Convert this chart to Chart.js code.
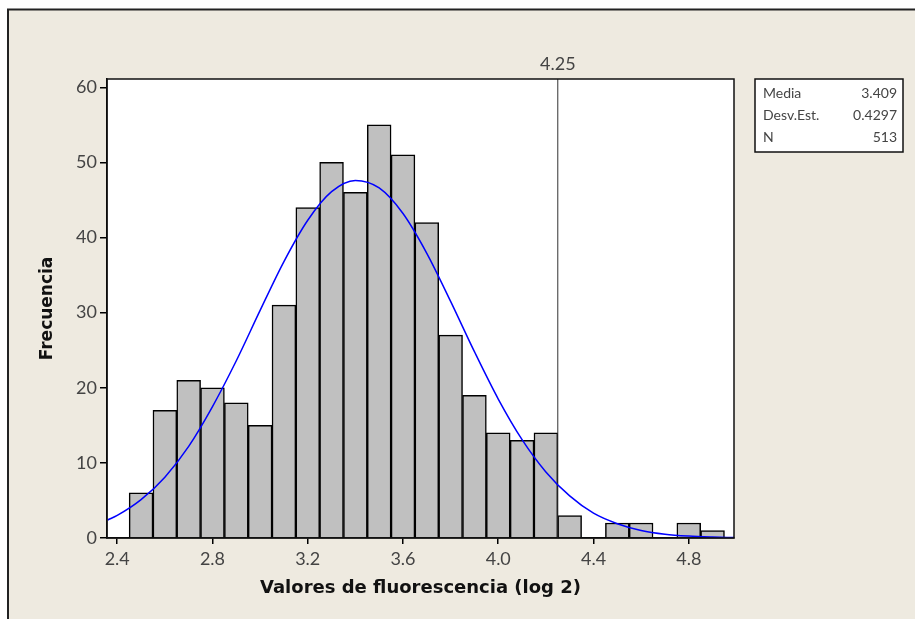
<!DOCTYPE html>
<html>
<head>
<meta charset="utf-8">
<script src="https://cdn.jsdelivr.net/npm/chart.js@4/dist/chart.umd.min.js"></script>
<style>
  html, body { margin: 0; padding: 0; background: #ffffff; }
  canvas { display: block; }
</style>
</head>
<body>
<canvas id="c" width="915" height="619"></canvas>
<script>
// ---- Data ----
const binCenters = [2.5, 2.6, 2.7, 2.8, 2.9, 3.0, 3.1, 3.2, 3.3, 3.4, 3.5, 3.6, 3.7, 3.8, 3.9, 4.0, 4.1, 4.2, 4.3, 4.4, 4.5, 4.6, 4.7, 4.8, 4.9];
const counts     = [6, 17, 21, 20, 18, 15, 31, 44, 50, 46, 55, 51, 42, 27, 19, 14, 13, 14, 3, 0, 2, 2, 0, 2, 1];
const curveX = [2.36, 2.4, 2.5, 2.6, 2.7, 2.8, 2.9, 3.0, 3.1, 3.2, 3.3, 3.4, 3.5, 3.6, 3.7, 3.8, 3.9, 4.0, 4.1, 4.2, 4.3, 4.4, 4.5, 4.6, 4.7, 4.8, 4.9, 4.99];
const curveY = [2.4, 3.0, 5.1, 8.1, 12.2, 17.5, 23.6, 30.3, 36.8, 42.3, 46.1, 47.6, 46.6, 43.2, 37.9, 31.5, 24.8, 18.5, 13.1, 8.8, 5.6, 3.3, 1.9, 1.0, 0.5, 0.25, 0.12, 0.05];
const refLineX = 4.25;
const xTickValues = [2.4, 2.8, 3.2, 3.6, 4.0, 4.4, 4.8];
const yTickValues = [0, 10, 20, 30, 40, 50, 60];
const statLabels = ['Media', 'Desv.Est.', 'N'];
const statValues = ['3.409', '0.4297', '513'];
const xTitle = 'Valores de fluorescencia (log 2)';
const yTitle = 'Frecuencia';

const BG = '#EEEAE0';
const TXT = '#444444';
const TICKFAMILY = 'Lato, "Open Sans", sans-serif';
const TICKFONT = { family: TICKFAMILY, size: 18, weight: 'normal' };
const XTITLEFONT = { family: '"DejaVu Sans", sans-serif', size: 18, weight: 'bold' };
const YTITLEFONT = { family: '"DejaVu Sans", sans-serif', size: 17, weight: 'bold' };

const framePlugin = {
  id: 'frame',
  beforeDraw(chart) {
    const ctx = chart.ctx;
    const W = chart.width, H = chart.height;
    ctx.save();
    ctx.fillStyle = '#ffffff';
    ctx.fillRect(0, 0, W, H);
    ctx.fillStyle = BG;
    ctx.fillRect(8, 9, W - 8, H - 9);
    ctx.strokeStyle = '#222';
    ctx.lineWidth = 2;
    ctx.beginPath();
    ctx.moveTo(8, H);
    ctx.lineTo(8, 9.5);
    ctx.lineTo(W, 9.5);
    ctx.stroke();
    const a = chart.chartArea;
    ctx.fillStyle = '#ffffff';
    ctx.fillRect(a.left, a.top, a.right - a.left, a.bottom - a.top);
    ctx.restore();
  },
  afterDraw(chart) {
    const ctx = chart.ctx;
    const a = chart.chartArea;
    const xs = chart.scales.x;
    ctx.save();
    // plot border
    ctx.strokeStyle = '#111';
    ctx.lineWidth = 1.5;
    ctx.strokeRect(a.left, a.top, a.right - a.left, a.bottom - a.top);
    // reference line label
    ctx.fillStyle = TXT;
    ctx.font = 'normal 18px ' + TICKFAMILY;
    ctx.textAlign = 'center';
    ctx.textBaseline = 'middle';
    ctx.fillText(String(refLineX), xs.getPixelForValue(refLineX), a.top - 15);
    // stats box
    const bx = 755, by = 79, bw = 148, bh = 73;
    ctx.fillStyle = '#ffffff';
    ctx.fillRect(bx, by, bw, bh);
    ctx.strokeStyle = '#111';
    ctx.lineWidth = 1.5;
    ctx.strokeRect(bx, by, bw, bh);
    ctx.fillStyle = TXT;
    ctx.font = 'normal 14px ' + TICKFAMILY;
    ctx.textBaseline = 'middle';
    for (let i = 0; i < statLabels.length; i++) {
      const yy = by + 14 + i * 22;
      ctx.textAlign = 'left';
      ctx.fillText(statLabels[i], bx + 8, yy);
      ctx.textAlign = 'right';
      ctx.fillText(statValues[i], bx + bw - 6, yy);
    }
    ctx.restore();
  }
};

new Chart(document.getElementById('c'), {
  type: 'bar',
  data: {
    datasets: [
      {
        type: 'line',
        data: curveX.map((x, i) => ({ x: x, y: curveY[i] })),
        borderColor: '#0000FF',
        borderWidth: 1.5,
        pointRadius: 0,
        cubicInterpolationMode: 'monotone',
        fill: false,
        order: 0
      },
      {
        type: 'line',
        data: [{ x: refLineX, y: 0 }, { x: refLineX, y: 61.1 }],
        borderColor: '#333333',
        borderWidth: 1,
        pointRadius: 0,
        fill: false,
        order: 1
      },
      {
        type: 'bar',
        data: binCenters.map((x, i) => ({ x: x, y: counts[i] })),
        backgroundColor: '#C0C0C0',
        borderColor: '#000000',
        borderWidth: 1.5,
        barPercentage: 1,
        categoryPercentage: 1,
        order: 2
      }
    ]
  },
  options: {
    responsive: false,
    animation: false,
    layout: { padding: { left: 0, top: 79, right: 181, bottom: 0 } },
    plugins: { legend: { display: false }, tooltip: { enabled: false } },
    scales: {
      x: {
        type: 'linear',
        min: 2.357,
        max: 4.99,
        offset: false,
        afterBuildTicks(axis) { axis.ticks = xTickValues.map(v => ({ value: v })); },
        afterFit(axis) { axis.height = 81; },
        grid: { offset: false, drawOnChartArea: false, drawTicks: true, tickLength: 6, color: '#000', lineWidth: 1.5 },
        border: { display: true, color: '#000', width: 1.5 },
        ticks: {
          color: TXT,
          font: TICKFONT,
          padding: 4,
          maxRotation: 0,
          autoSkip: false,
          callback: v => Number(v).toFixed(1)
        },
        title: {
          display: true,
          text: xTitle,
          color: '#111',
          font: XTITLEFONT,
          padding: { top: 0, bottom: 20 }
        }
      },
      y: {
        type: 'linear',
        min: 0,
        max: 61.1,
        afterBuildTicks(axis) { axis.ticks = yTickValues.map(v => ({ value: v })); },
        afterFit(axis) { axis.width = 107; },
        grid: { drawOnChartArea: false, drawTicks: true, tickLength: 7, color: '#000', lineWidth: 1.5 },
        border: { display: true, color: '#000', width: 1.5 },
        ticks: { color: TXT, font: TICKFONT, padding: 3 },
        title: {
          display: true,
          text: yTitle,
          color: '#111',
          font: YTITLEFONT,
          padding: { top: 37, bottom: 0 }
        }
      }
    }
  },
  plugins: [framePlugin]
});
</script>
</body>
</html>
